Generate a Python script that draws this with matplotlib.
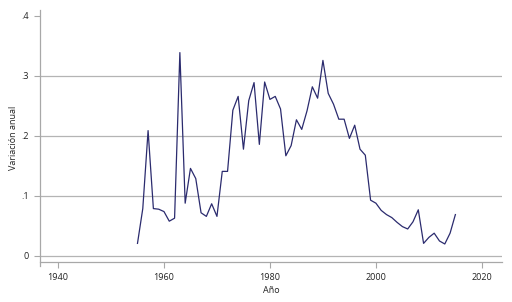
import matplotlib.pyplot as plt
import numpy as np

# Datos
anios = np.arange(1955, 2016)
variacion = [0.021, 0.079, 0.209, 0.079, 0.078, 0.074, 0.058, 0.063, 0.339, 0.088,
             0.146, 0.129, 0.072, 0.066, 0.087, 0.066, 0.141, 0.141, 0.243, 0.266,
             0.178, 0.259, 0.289, 0.186, 0.290, 0.261, 0.266, 0.245, 0.167, 0.184,
             0.227, 0.211, 0.242, 0.282, 0.263, 0.326, 0.271, 0.253, 0.228, 0.228,
             0.196, 0.218, 0.178, 0.168, 0.093, 0.088, 0.076, 0.069, 0.064, 0.056,
             0.049, 0.045, 0.057, 0.077, 0.021, 0.031, 0.038, 0.025, 0.020, 0.038,
             0.069]
xticks = [1940, 1960, 1980, 2000, 2020]
yticks = [0, 0.1, 0.2, 0.3, 0.4]
ylabels = ['0', '.1', '.2', '.3', '.4']

plt.rcParams['font.family'] = ['Open Sans', 'DejaVu Sans']

fig = plt.figure(figsize=(5.12, 3.02), dpi=100)
ax = fig.add_axes([40 / 512, 36 / 302, 462 / 512, 256 / 302])

for v in yticks[:-1]:
    ax.axhline(v, color='#b4b4b4', lw=0.9, zorder=1)

ax.plot(anios, variacion, color='#2b2b6e', lw=0.9, zorder=3)

ax.set_xlim(1936.6, 2023.8)
ax.set_ylim(-0.0167, 0.41)
ax.set_xticks(xticks)
ax.set_yticks(yticks)
ax.set_yticklabels(ylabels)

for s in ['top', 'right']:
    ax.spines[s].set_visible(False)
ax.spines['bottom'].set_position(('data', -0.01))
ax.spines['left'].set_bounds(-0.0167, 0.41)
for s in ['bottom', 'left']:
    ax.spines[s].set_color('#a8a8a8')
    ax.spines[s].set_linewidth(0.9)

ax.tick_params(axis='both', colors='#a8a8a8', labelcolor='#222222',
               labelsize=6.5, length=4, width=0.8, pad=4)

ax.set_xlabel('Año', fontsize=6.5, color='#222222', labelpad=3)
ax.set_ylabel('Variación anual', fontsize=6.5, color='#222222', labelpad=2)

fig.savefig('out.png', dpi=100, facecolor='white')
